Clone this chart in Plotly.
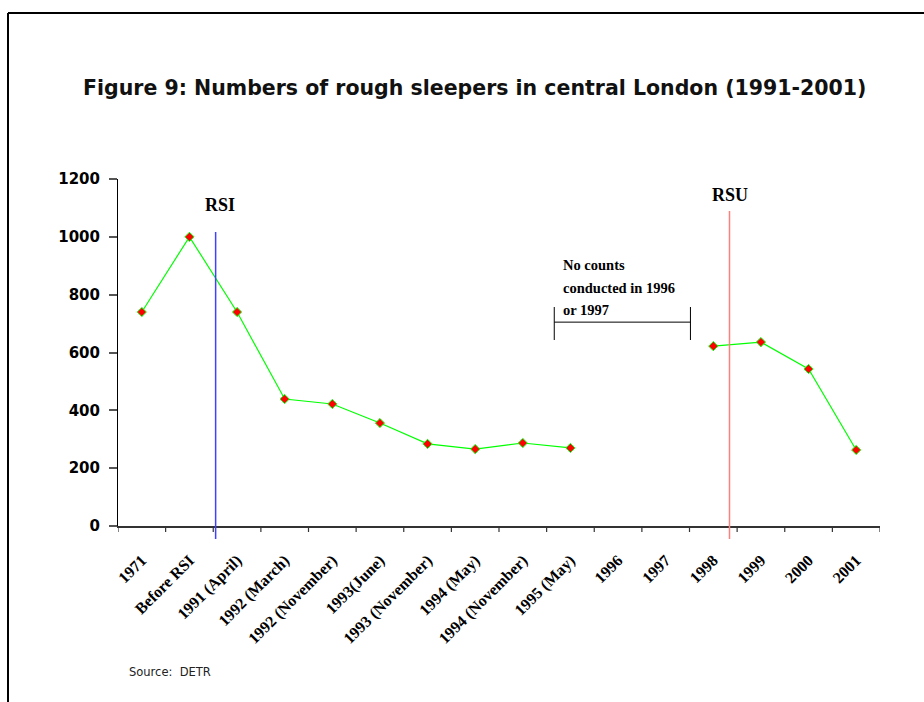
import plotly.graph_objects as go

categories = ["1971", "Before RSI", "1991 (April)", "1992 (March)", "1992 (November)",
              "1993(June)", "1993 (November)", "1994 (May)", "1994 (November)", "1995 (May)",
              "1996", "1997", "1998", "1999", "2000", "2001"]
sleepers = [740, 1000, 740, 439, 422, 356, 284, 266, 287, 270, None, None, 622, 636, 543, 263]
y_ticks = [0, 200, 400, 600, 800, 1000, 1200]

# marker lines (category position) and their labels
rsi_pos = 1.55
rsu_pos = 12.34
gap_from = 8.66
gap_to = 11.52
gap_level = 705
gap_note = ["No counts", "conducted in 1996", "or 1997"]

W, H = 924, 702
L, R, T, B = 118, 44, 179, 176
pw, ph = W - L - R, H - T - B


def px_x(x):
    return (x - L) / pw


def px_y(y):
    return (H - B - y) / ph


fig = go.Figure()

fig.add_trace(go.Scatter(x=list(range(len(categories))), y=sleepers,
                         mode="lines+markers",
                         line=dict(color="#00ff00", width=1.2),
                         marker=dict(symbol="diamond", size=7, color="red",
                                     line=dict(color="#00ff00", width=1)),
                         connectgaps=False,
                         showlegend=False))

# RSI / RSU vertical lines
fig.add_shape(type="line", xref="x", yref="paper", x0=rsi_pos, x1=rsi_pos,
              y0=px_y(539), y1=px_y(232), line=dict(color="#4040ff", width=1.5))
fig.add_shape(type="line", xref="x", yref="paper", x0=rsu_pos, x1=rsu_pos,
              y0=px_y(539), y1=px_y(211), line=dict(color="#ff7f7f", width=1.5))
fig.add_annotation(x=rsi_pos + 0.1, y=px_y(205), yref="paper", text="<b>RSI</b>",
                   showarrow=False, xanchor="center", yanchor="middle",
                   font=dict(family="Liberation Serif", size=18, color="black"))
fig.add_annotation(x=rsu_pos, y=px_y(195), yref="paper", text="<b>RSU</b>",
                   showarrow=False, xanchor="center", yanchor="middle",
                   font=dict(family="Liberation Serif", size=18, color="black"))

# bracket for missing years
fig.add_shape(type="line", xref="x", yref="y", x0=gap_from, x1=gap_to,
              y0=gap_level, y1=gap_level, line=dict(color="black", width=1))
for gx in (gap_from, gap_to):
    fig.add_shape(type="line", xref="x", yref="paper", x0=gx, x1=gx,
                  y0=px_y(340), y1=px_y(307), line=dict(color="black", width=1))
for k, line_text in enumerate(gap_note):
    fig.add_annotation(x=gap_from + 0.15, y=px_y(265 + 22.5 * k), yref="paper",
                       xanchor="left", yanchor="middle", text="<b>" + line_text + "</b>",
                       showarrow=False,
                       font=dict(family="Liberation Serif", size=14.5, color="black"))

# title and source
fig.add_annotation(xref="paper", yref="paper", x=px_x(474), y=px_y(88),
                   xanchor="center", yanchor="middle",
                   text="<b>Figure 9: Numbers of rough sleepers in central London (1991-2001)</b>",
                   showarrow=False, font=dict(family="DejaVu Sans", size=20.5, color="#111"))
fig.add_annotation(xref="paper", yref="paper", x=px_x(127), y=px_y(672),
                   xanchor="left", yanchor="middle",
                   text="Source:  DETR", showarrow=False,
                   font=dict(family="DejaVu Sans", size=11.5, color="#222"))

# outer frame (open at bottom and right)
fig.add_shape(type="line", xref="paper", yref="paper", x0=px_x(8), x1=px_x(8),
              y0=px_y(710), y1=px_y(13), line=dict(color="black", width=2))
fig.add_shape(type="line", xref="paper", yref="paper", x0=px_x(8), x1=px_x(930),
              y0=px_y(13), y1=px_y(13), line=dict(color="black", width=2))

fig.update_xaxes(type="linear", range=[-0.5, len(categories) - 0.5],
                 tickmode="array", tickvals=list(range(len(categories))),
                 ticktext=categories,
                 tickangle=-45, ticks="", showgrid=False, zeroline=False,
                 showline=True, linecolor="#333", linewidth=1.5, ticklabelstandoff=17,
                 tickfont=dict(family="Liberation Serif", size=16, color="black",
                               weight="bold"))
# boundary ticks
for i in range(len(categories) + 1):
    fig.add_shape(type="line", xref="x", yref="paper", x0=i - 0.5, x1=i - 0.5,
                  y0=0, y1=px_y(532), line=dict(color="#333", width=1.2))

fig.update_yaxes(range=[0, 1200], tickmode="array", tickvals=y_ticks,
                 ticks="outside", ticklen=8, tickcolor="#555", tickwidth=1.5,
                 showgrid=False, zeroline=False, showline=True, linecolor="black",
                 linewidth=1, ticklabelstandoff=6,
                 tickfont=dict(family="DejaVu Sans", size=15, color="black", weight="bold"))

fig.update_layout(width=W, height=H, margin=dict(l=L, r=R, t=T, b=B, autoexpand=False),
                  plot_bgcolor="white", paper_bgcolor="white")

fig.write_html("out.html", config={"displayModeBar": False},
               post_script="document.body.style.margin='0';")
